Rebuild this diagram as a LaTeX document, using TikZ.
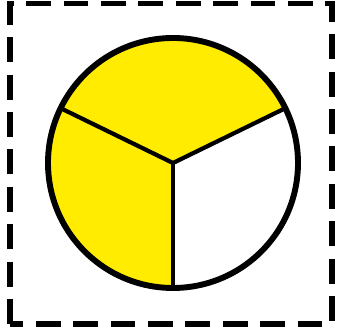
\documentclass[tikz,border=0pt]{standalone}
\definecolor{pieyellow}{RGB}{255,236,0}
\tikzset{every path/.style={line width=4.2pt}}

\begin{document}
\begin{tikzpicture}[x=0.025cm,y=0.025cm]
    \useasboundingbox (0,0) rectangle (338,333);
    \draw[dash pattern=on 17.7pt off 8.9pt] (10,9) rectangle (332,329.5);

    \coordinate (o) at (173,170);
    \fill[pieyellow] (o) -- ++(26:125) arc[start angle=26, end angle=270, radius=125] -- cycle;
    \foreach \a in {26,154,270}
      \draw[line width=3pt] (o) -- ++(\a:125);
    \draw (o) circle[radius=125];
  \end{tikzpicture}
\end{document}
